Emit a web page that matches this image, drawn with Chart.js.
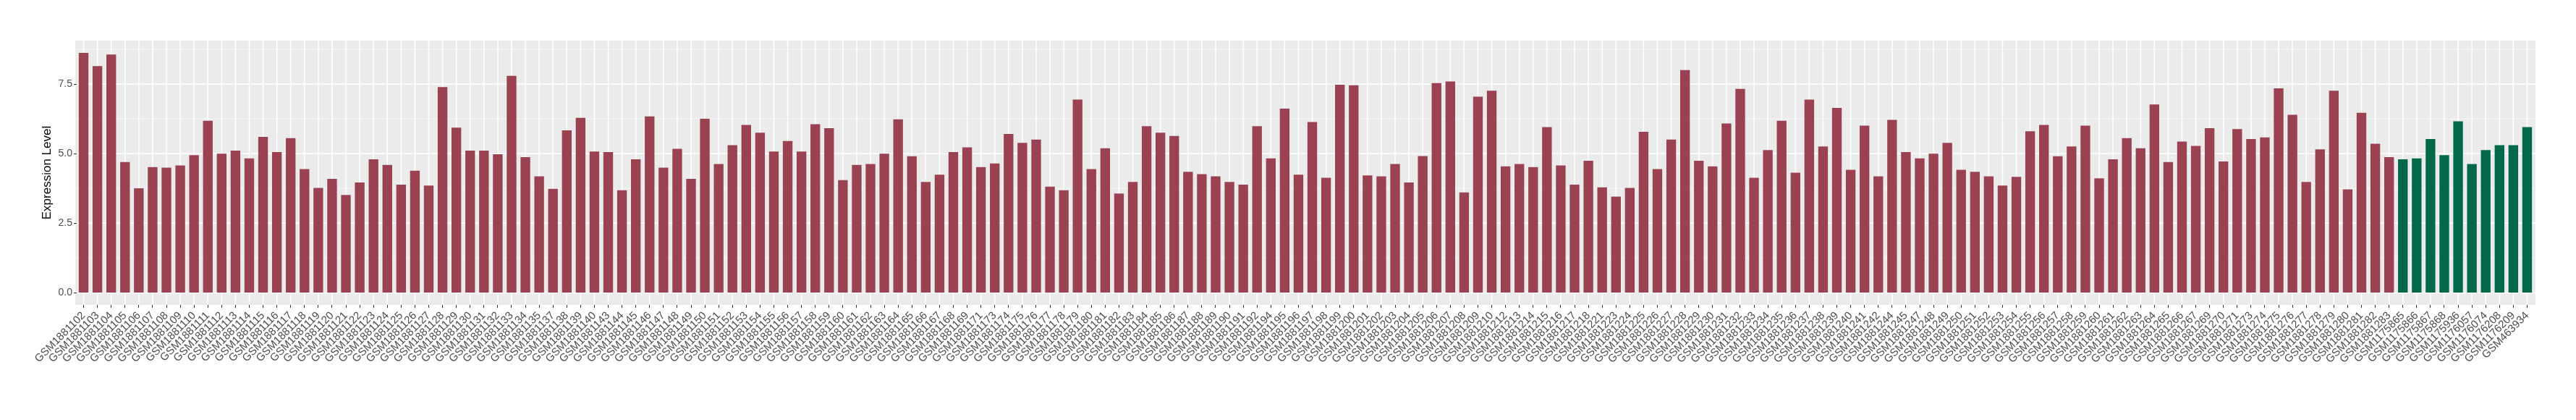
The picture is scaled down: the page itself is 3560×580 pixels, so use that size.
<!DOCTYPE html>
<html>
<head>
<meta charset="utf-8">
<script src="https://cdn.jsdelivr.net/npm/chart.js@4"></script>
<style>
  body { margin: 0; background: #fff; }
  #wrap { width: 3560px; height: 580px; }
</style>
</head>
<body>
<div id="wrap"><canvas id="canvas1"></canvas></div>
<script>
// samples of the first group (red bars)
const redLabels = [
  'GSM1881102','GSM1881103','GSM1881104','GSM1881105','GSM1881106','GSM1881107','GSM1881108','GSM1881109','GSM1881110','GSM1881111',
  'GSM1881112','GSM1881113','GSM1881114','GSM1881115','GSM1881116','GSM1881117','GSM1881118','GSM1881119','GSM1881120','GSM1881121',
  'GSM1881122','GSM1881123','GSM1881124','GSM1881125','GSM1881126','GSM1881127','GSM1881128','GSM1881129','GSM1881130','GSM1881131',
  'GSM1881132','GSM1881133','GSM1881134','GSM1881135','GSM1881137','GSM1881138','GSM1881139','GSM1881140','GSM1881143','GSM1881144',
  'GSM1881145','GSM1881146','GSM1881147','GSM1881148','GSM1881149','GSM1881150','GSM1881151','GSM1881152','GSM1881153','GSM1881154',
  'GSM1881155','GSM1881156','GSM1881157','GSM1881158','GSM1881159','GSM1881160','GSM1881161','GSM1881162','GSM1881163','GSM1881164',
  'GSM1881165','GSM1881166','GSM1881167','GSM1881168','GSM1881169','GSM1881171','GSM1881173','GSM1881174','GSM1881175','GSM1881176',
  'GSM1881177','GSM1881178','GSM1881179','GSM1881180','GSM1881181','GSM1881182','GSM1881183','GSM1881184','GSM1881185','GSM1881186',
  'GSM1881187','GSM1881188','GSM1881189','GSM1881190','GSM1881191','GSM1881192','GSM1881194','GSM1881195','GSM1881196','GSM1881197',
  'GSM1881198','GSM1881199','GSM1881200','GSM1881201','GSM1881202','GSM1881203','GSM1881204','GSM1881205','GSM1881206','GSM1881207',
  'GSM1881208','GSM1881209','GSM1881210','GSM1881212','GSM1881213','GSM1881214','GSM1881215','GSM1881216','GSM1881217','GSM1881218',
  'GSM1881221','GSM1881223','GSM1881224','GSM1881225','GSM1881226','GSM1881227','GSM1881228','GSM1881229','GSM1881230','GSM1881231',
  'GSM1881232','GSM1881233','GSM1881234','GSM1881235','GSM1881236','GSM1881237','GSM1881238','GSM1881239','GSM1881240','GSM1881241',
  'GSM1881242','GSM1881244','GSM1881245','GSM1881247','GSM1881248','GSM1881249','GSM1881250','GSM1881251','GSM1881252','GSM1881253',
  'GSM1881254','GSM1881255','GSM1881256','GSM1881257','GSM1881258','GSM1881259','GSM1881260','GSM1881261','GSM1881262','GSM1881263',
  'GSM1881264','GSM1881265','GSM1881266','GSM1881267','GSM1881269','GSM1881270','GSM1881271','GSM1881273','GSM1881274','GSM1881275',
  'GSM1881276','GSM1881277','GSM1881278','GSM1881279','GSM1881280','GSM1881281','GSM1881282','GSM1881283'
];
const redValues = [
  8.63, 8.15, 8.57, 4.70, 3.76, 4.52, 4.50, 4.58, 4.95, 6.19,
  5.00, 5.11, 4.83, 5.61, 5.06, 5.56, 4.45, 3.77, 4.10, 3.52,
  3.97, 4.80, 4.60, 3.89, 4.39, 3.86, 7.40, 5.94, 5.11, 5.11,
  4.98, 7.80, 4.88, 4.19, 3.74, 5.84, 6.29, 5.08, 5.06, 3.69,
  4.80, 6.34, 4.50, 5.18, 4.10, 6.26, 4.63, 5.31, 6.04, 5.76,
  5.08, 5.46, 5.08, 6.06, 5.92, 4.05, 4.60, 4.63, 5.00, 6.24,
  4.91, 3.99, 4.25, 5.06, 5.23, 4.52, 4.65, 5.71, 5.39, 5.51,
  3.82, 3.69, 6.95, 4.45, 5.20, 3.57, 3.99, 5.99, 5.76, 5.64,
  4.35, 4.27, 4.19, 3.99, 3.89, 5.99, 4.83, 6.62, 4.25, 6.14,
  4.14, 7.48, 7.46, 4.22, 4.19, 4.63, 3.97, 4.92, 7.54, 7.60,
  3.61, 7.05, 7.27, 4.55, 4.63, 4.52, 5.96, 4.58, 3.89, 4.75,
  3.79, 3.46, 3.77, 5.79, 4.45, 5.51, 8.01, 4.75, 4.55, 6.09,
  7.33, 4.14, 5.13, 6.19, 4.32, 6.95, 5.26, 6.65, 4.42, 6.01,
  4.19, 6.22, 5.06, 4.83, 5.00, 5.39, 4.42, 4.35, 4.19, 3.86,
  4.17, 5.81, 6.04, 4.91, 5.26, 6.01, 4.12, 4.80, 5.56, 5.20,
  6.77, 4.70, 5.44, 5.28, 5.92, 4.72, 5.89, 5.53, 5.59, 7.35,
  6.40, 3.99, 5.16, 7.27, 3.72, 6.47, 5.36, 4.88
];

// samples of the second group (green bars)
const greenLabels = ['GSM1175865','GSM1175866','GSM1175867','GSM1175868','GSM1175936','GSM1176057','GSM1176074','GSM1176208','GSM1176209','GSM463934'];
const greenValues = [4.80, 4.83, 5.53, 4.95, 6.17, 4.63, 5.13, 5.31, 5.31, 5.96];

const yMajor = [0, 2.5, 5, 7.5];
const yMinor = [1.25, 3.75, 6.25, 8.75];

const redColor = '#9A4251';
const greenColor = '#03684A';

let labels = redLabels.concat(greenLabels);
let values = redValues.concat(greenValues);
let colors = redLabels.map(() => redColor).concat(greenLabels.map(() => greenColor));

// grey panel + white grid, ggplot style (panel goes a bit past the outer bars)
const panel = {
  id: 'panel',
  beforeDraw(chart) {
    const ctx = chart.ctx;
    const area = chart.chartArea;
    const x = chart.scales.x, y = chart.scales.y;
    const step = (area.right - area.left) / labels.length;
    const left = area.left - 0.1 * step;
    const right = area.right + 0.1 * step;
    ctx.save();
    ctx.fillStyle = '#EBEBEB';
    ctx.fillRect(left, area.top, right - left, area.bottom - area.top);
    ctx.strokeStyle = '#FAFAFA';
    ctx.lineWidth = 0.8;
    yMinor.forEach(v => {
      const py = y.getPixelForValue(v);
      ctx.beginPath(); ctx.moveTo(left, py); ctx.lineTo(right, py); ctx.stroke();
    });
    ctx.strokeStyle = '#FFFFFF';
    ctx.lineWidth = 1.5;
    yMajor.forEach(v => {
      const py = y.getPixelForValue(v);
      ctx.beginPath(); ctx.moveTo(left, py); ctx.lineTo(right, py); ctx.stroke();
    });
    for (let i = 0; i < labels.length; i++) {
      const px = x.getPixelForValue(i);
      ctx.beginPath(); ctx.moveTo(px, area.top); ctx.lineTo(px, area.bottom); ctx.stroke();
    }
    ctx.restore();
  }
};

new Chart(document.getElementById('canvas1'), {
  type: 'bar',
  data: {
    labels: labels,
    datasets: [{
      data: values,
      backgroundColor: colors,
      barPercentage: 0.7,
      categoryPercentage: 1.0
    }]
  },
  options: {
    responsive: true,
    maintainAspectRatio: false,
    animation: false,
    layout: { padding: { top: 56, right: 58, bottom: 0, left: 0 } },
    plugins: {
      legend: { display: false },
      tooltip: { enabled: false }
    },
    scales: {
      x: {
        offset: true,
        border: { display: false },
        grid: { drawOnChartArea: false, offset: false, tickLength: 4, tickColor: '#333333', tickWidth: 1 },
        ticks: {
          autoSkip: false,
          maxRotation: 45,
          minRotation: 45,
          padding: 2,
          color: '#4D4D4D',
          font: { family: 'Liberation Sans, Arial, sans-serif', size: 15 }
        },
        afterFit: scale => { scale.height = 159; }
      },
      y: {
        min: -0.432,
        max: 9.07,
        border: { display: false },
        afterBuildTicks: scale => { scale.ticks = yMajor.map(v => ({ value: v })); },
        afterFit: scale => { scale.width = 106; },
        grid: { drawOnChartArea: false, tickLength: 4, tickColor: '#333333', tickWidth: 1 },
        ticks: {
          padding: 2,
          color: '#4D4D4D',
          font: { family: 'Liberation Sans, Arial, sans-serif', size: 14 },
          callback: v => v.toFixed(1)
        },
        title: {
          display: true,
          text: 'Expression Level',
          color: '#000000',
          padding: { top: 55, bottom: 0 },
          font: { family: 'Liberation Sans, Arial, sans-serif', size: 17 }
        }
      }
    }
  },
  plugins: [panel]
});
</script>
</body>
</html>
